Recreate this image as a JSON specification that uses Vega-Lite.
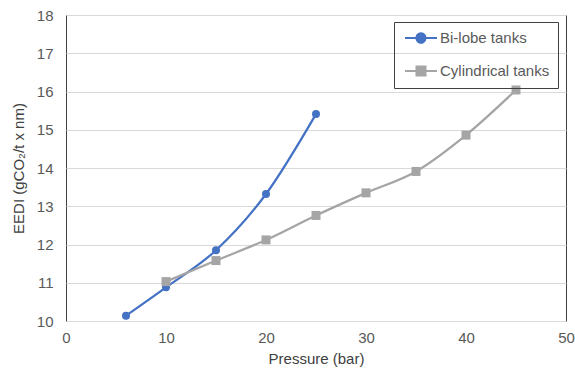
{
  "$schema": "https://vega.github.io/schema/vega-lite/v6.json",
  "width": 500,
  "height": 306,
  "autosize": {"type": "none"},
  "padding": {"left": 66, "top": 15, "right": 9, "bottom": 51},
  "config": {
    "font": "Liberation Sans",
    "view": {"stroke": "#404040", "strokeWidth": 1}
  },
  "data": {
    "values": [
      {"series": "Bi-lobe tanks", "pressure": 6, "eedi": 10.14},
      {"series": "Bi-lobe tanks", "pressure": 10, "eedi": 10.88},
      {"series": "Bi-lobe tanks", "pressure": 15, "eedi": 11.85},
      {"series": "Bi-lobe tanks", "pressure": 20, "eedi": 13.32},
      {"series": "Bi-lobe tanks", "pressure": 25, "eedi": 15.41},
      {"series": "Cylindrical tanks", "pressure": 10, "eedi": 11.03},
      {"series": "Cylindrical tanks", "pressure": 15, "eedi": 11.58},
      {"series": "Cylindrical tanks", "pressure": 20, "eedi": 12.12},
      {"series": "Cylindrical tanks", "pressure": 25, "eedi": 12.76},
      {"series": "Cylindrical tanks", "pressure": 30, "eedi": 13.35},
      {"series": "Cylindrical tanks", "pressure": 35, "eedi": 13.91},
      {"series": "Cylindrical tanks", "pressure": 40, "eedi": 14.86},
      {"series": "Cylindrical tanks", "pressure": 45, "eedi": 16.04}
    ]
  },
  "encoding": {
    "x": {
      "field": "pressure", "type": "quantitative",
      "scale": {"domain": [0, 50], "nice": false},
      "axis": {
        "title": "Pressure (bar)", "values": [0, 10, 20, 30, 40, 50],
        "grid": false, "ticks": false, "domain": false, "labelFlush": false, "labelOverlap": false,
        "labelFontSize": 15, "labelColor": "#595959", "labelPadding": 9,
        "titleFontSize": 15, "titleFontWeight": "normal", "titleColor": "#404040", "titlePadding": 6
      }
    },
    "y": {
      "field": "eedi", "type": "quantitative",
      "scale": {"domain": [10, 18], "nice": false, "zero": false},
      "axis": {
        "title": "EEDI (gCO₂/t x nm)", "values": [10, 11, 12, 13, 14, 15, 16, 17, 18],
        "grid": true, "gridColor": "#d9d9d9", "ticks": false, "domain": false, "labelFlush": false, "labelOverlap": false,
        "labelFontSize": 15, "labelColor": "#595959", "labelPadding": 13,
        "titleFontSize": 15, "titleFontWeight": "normal", "titleColor": "#404040", "titlePadding": 10
      }
    },
    "color": {
      "field": "series", "type": "nominal",
      "scale": {"domain": ["Bi-lobe tanks", "Cylindrical tanks"], "range": ["#4472C4", "#A5A5A5"]},
      "legend": {
        "title": null, "orient": "none", "legendX": 328, "legendY": 7,
        "strokeColor": "#404040", "padding": 8, "rowPadding": 15,
        "symbolSize": 196, "labelOffset": 22,
        "labelFontSize": 15, "labelColor": "#595959",
        "encode": {
          "symbols": {
            "update": {
              "shape": {"signal": "datum.value === 'Bi-lobe tanks' ? 'M-0.714,0H3.857M2.214,0A0.643,0.643,0,1,1,0.929,0A0.643,0.643,0,1,1,2.214,0Z' : 'M-0.714,0H3.857M0.929,-0.643H2.214V0.643H0.929Z'"},
              "fill": {"signal": "datum.value === 'Bi-lobe tanks' ? '#4472C4' : '#A5A5A5'"},
              "stroke": {"signal": "datum.value === 'Bi-lobe tanks' ? '#4472C4' : '#A5A5A5'"},
              "strokeWidth": {"value": 2},
              "opacity": {"value": 1},
              "fillOpacity": {"value": 1}
            }
          }
        }
      }
    }
  },
  "layer": [
    {"mark": {"type": "line", "interpolate": "monotone", "strokeWidth": 2.25}},
    {
      "transform": [{"filter": "datum.series === 'Bi-lobe tanks'"}],
      "mark": {"type": "point", "shape": "circle", "filled": true, "opacity": 1, "size": 64}
    },
    {
      "transform": [{"filter": "datum.series === 'Cylindrical tanks'"}],
      "mark": {"type": "point", "shape": "square", "filled": true, "opacity": 1, "size": 81}
    }
  ]
}
